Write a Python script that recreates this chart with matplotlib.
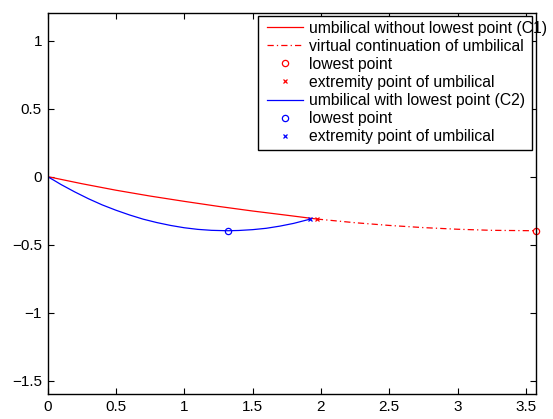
import matplotlib
matplotlib.use("Agg")
import matplotlib.pyplot as plt
from matplotlib.patches import Rectangle

plt.rcParams['font.family'] = ['Liberation Sans', 'DejaVu Sans']

# C1: umbilical without lowest point
c1_x = [0.0, 0.25, 0.5, 0.75, 1.0, 1.25, 1.5, 1.75, 1.97]
c1_y = [0.0, -0.052, -0.100, -0.143, -0.182, -0.219, -0.253, -0.284, -0.312]
# virtual continuation
cont_x = [1.97, 2.25, 2.5, 2.75, 3.0, 3.25, 3.57]
cont_y = [-0.312, -0.339, -0.359, -0.375, -0.387, -0.395, -0.398]
c1_low = (3.57, -0.398)
c1_end = (1.97, -0.312)

# C2: umbilical with lowest point
c2_x = [0.0, 0.05, 0.1, 0.2, 0.3, 0.4, 0.5, 0.6, 0.7, 0.8, 0.9, 1.0, 1.1, 1.2,
        1.318, 1.4, 1.5, 1.6, 1.7, 1.8, 1.92]
c2_y = [0.0, -0.029, -0.059, -0.113, -0.163, -0.208, -0.247, -0.282, -0.313, -0.338,
        -0.359, -0.376, -0.388, -0.395, -0.398, -0.396, -0.390, -0.380, -0.364, -0.344, -0.313]
c2_low = (1.318, -0.398)
c2_end = (1.92, -0.312)

labels = ["umbilical without lowest point (C1)",
          "virtual continuation of umbilical",
          "lowest point",
          "extremity point of umbilical",
          "umbilical with lowest point (C2)",
          "lowest point",
          "extremity point of umbilical"]

x_ticks = [0, 0.5, 1, 1.5, 2, 2.5, 3, 3.5]
y_ticks = [-1.5, -1, -0.5, 0, 0.5, 1]

W, H = 553, 419
fig = plt.figure(figsize=(W / 100, H / 100), dpi=100)
ax = fig.add_axes([47.5 / W, 1 - 394.3 / H, (536 - 47.5) / W, (394.3 - 13.3) / H])

lw = 0.9
ax.plot(c1_x, c1_y, color='red', lw=lw, label=labels[0])
ax.plot(cont_x, cont_y, color='red', lw=lw, ls=(0, (5, 2.5, 1, 2.5)), label=labels[1])
ax.plot([c1_low[0]], [c1_low[1]], ls='none', marker='o', ms=4.5, mfc='none', mec='red', mew=0.9,
        label=labels[2], clip_on=False)
ax.plot([c1_end[0]], [c1_end[1]], ls='none', marker='x', ms=3.5, color='red', mew=0.9, label=labels[3])
ax.plot(c2_x, c2_y, color='blue', lw=lw, label=labels[4])
ax.plot([c2_low[0]], [c2_low[1]], ls='none', marker='o', ms=4.5, mfc='none', mec='blue', mew=0.9, label=labels[5])
ax.plot([c2_end[0]], [c2_end[1]], ls='none', marker='x', ms=3.5, color='blue', mew=0.9, label=labels[6])

ax.set_xlim(0, 3.573)
ax.set_ylim(-1.6, 1.2)
ax.set_xticks(x_ticks)
ax.set_xticklabels(['0', '0.5', '1', '1.5', '2', '2.5', '3', '3.5'])
ax.set_yticks(y_ticks)
ax.set_yticklabels(['\u22121.5', '\u22121', '\u22120.5', '0', '0.5', '1'])
ax.tick_params(direction='in', length=4, width=0.8, top=True, right=True, labelsize=11, pad=4)
for s in ax.spines.values():
    s.set_linewidth(1.0)

# legend box (MATLAB style, text overflows the frame slightly as in the original)
bx0, by0, bx1, by1 = 258, 16, 532, 150
fill = Rectangle((bx0 / W, 1 - by1 / H), (bx1 - bx0) / W, (by1 - by0) / H, transform=fig.transFigure,
                 facecolor='white', edgecolor='none', zorder=4)
ax.add_patch(fill)
frame = Rectangle((bx0 / W, 1 - by1 / H), (bx1 - bx0) / W, (by1 - by0) / H, transform=fig.transFigure,
                  facecolor='none', edgecolor='black', lw=1.0, zorder=6, clip_on=False)
ax.add_patch(frame)
fill.set_clip_on(False)

leg = ax.legend(loc='upper left', bbox_to_anchor=(267 / W, 1 - 20.5 / H), bbox_transform=fig.transFigure,
                fontsize=11.3, frameon=False, handlelength=2.3, handletextpad=0.38,
                labelspacing=0.2, borderpad=0.0, borderaxespad=0.0)
leg.set_zorder(5)

fig.savefig('out.png', dpi=100)
